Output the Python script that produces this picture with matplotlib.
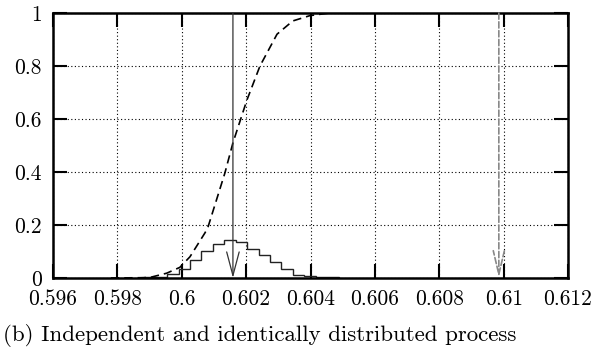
import numpy as np
import matplotlib
matplotlib.use("Agg")
import matplotlib.pyplot as plt

plt.rcParams['font.family'] = ['cmr10', 'DejaVu Serif']
plt.rcParams['axes.formatter.use_mathtext'] = True

# --- data ---
# histogram (bin edges and heights)
hist_edges = [0.598835, 0.59919, 0.599545, 0.5999, 0.600255, 0.60061, 0.600965,
              0.60132, 0.601675, 0.60203, 0.602385, 0.60274, 0.603095, 0.60345,
              0.603805, 0.60416, 0.604515, 0.60487]
hist_vals = [0.002, 0.005, 0.015, 0.035, 0.068, 0.10, 0.13, 0.145, 0.135,
             0.109, 0.086, 0.059, 0.034, 0.011, 0.009, 0.004, 0.002]

# cumulative distribution (dashed curve)
cdf_x = [0.5978, 0.5987, 0.59901, 0.59953, 0.59994, 0.600255, 0.60072, 0.60081,
         0.60134, 0.60159, 0.60202, 0.60243, 0.60296, 0.60345, 0.60398, 0.6046, 0.6052]
cdf_y = [0.0, 0.001, 0.002, 0.018, 0.04, 0.08, 0.17, 0.19,
         0.396, 0.51, 0.67, 0.80, 0.92, 0.97, 0.99, 1.0, 1.0]

mean_x = 0.60159       # solid arrow
other_x = 0.60985      # grey dashed arrow

xticks = [0.596, 0.598, 0.600, 0.602, 0.604, 0.606, 0.608, 0.610, 0.612]
xtick_labels = ["0.596", "0.598", "0.6", "0.602", "0.604", "0.606", "0.608", "0.61", "0.612"]
yticks = [0, 0.2, 0.4, 0.6, 0.8, 1]
ytick_labels = ["0", "0.2", "0.4", "0.6", "0.8", "1"]

fig = plt.figure(figsize=(6.11, 3.51), dpi=100)
ax = fig.add_axes([0.0867, 0.208, 0.843, 0.755])

ax.grid(True, color='black', linestyle=(0, (1, 2.2)), linewidth=0.8)
ax.set_axisbelow(True)

ax.stairs(hist_vals, hist_edges, color='#222222', linewidth=1.0, baseline=0)
ax.plot(cdf_x, cdf_y, color='black', linestyle=(0, (5, 3)), linewidth=1.2)

ax.annotate('', xy=(mean_x, 0), xytext=(mean_x, 1),
            arrowprops=dict(arrowstyle='->, head_length=1.7, head_width=0.45',
                            color='#333333', linewidth=0.9,
                            shrinkA=0, shrinkB=0, mutation_scale=10))
ax.annotate('', xy=(other_x, 0), xytext=(other_x, 1),
            arrowprops=dict(arrowstyle='->, head_length=1.7, head_width=0.4',
                            color='#888888', linewidth=1.2, linestyle='--',
                            shrinkA=0, shrinkB=0, mutation_scale=10))

ax.set_xlim(0.596, 0.612)
ax.set_ylim(0, 1)
ax.set_xticks(xticks)
ax.set_xticklabels(xtick_labels)
ax.set_yticks(yticks)
ax.set_yticklabels(ytick_labels)
ax.tick_params(direction='in', length=10, width=1.5, labelsize=15.5,
               top=True, right=True, pad=8)
for s in ax.spines.values():
    s.set_linewidth(1.8)

fig.text(0.005, 0.012, "(b) Independent and identically distributed process",
         fontsize=16.5, ha='left', va='bottom')

fig.savefig("out.png", dpi=100)
